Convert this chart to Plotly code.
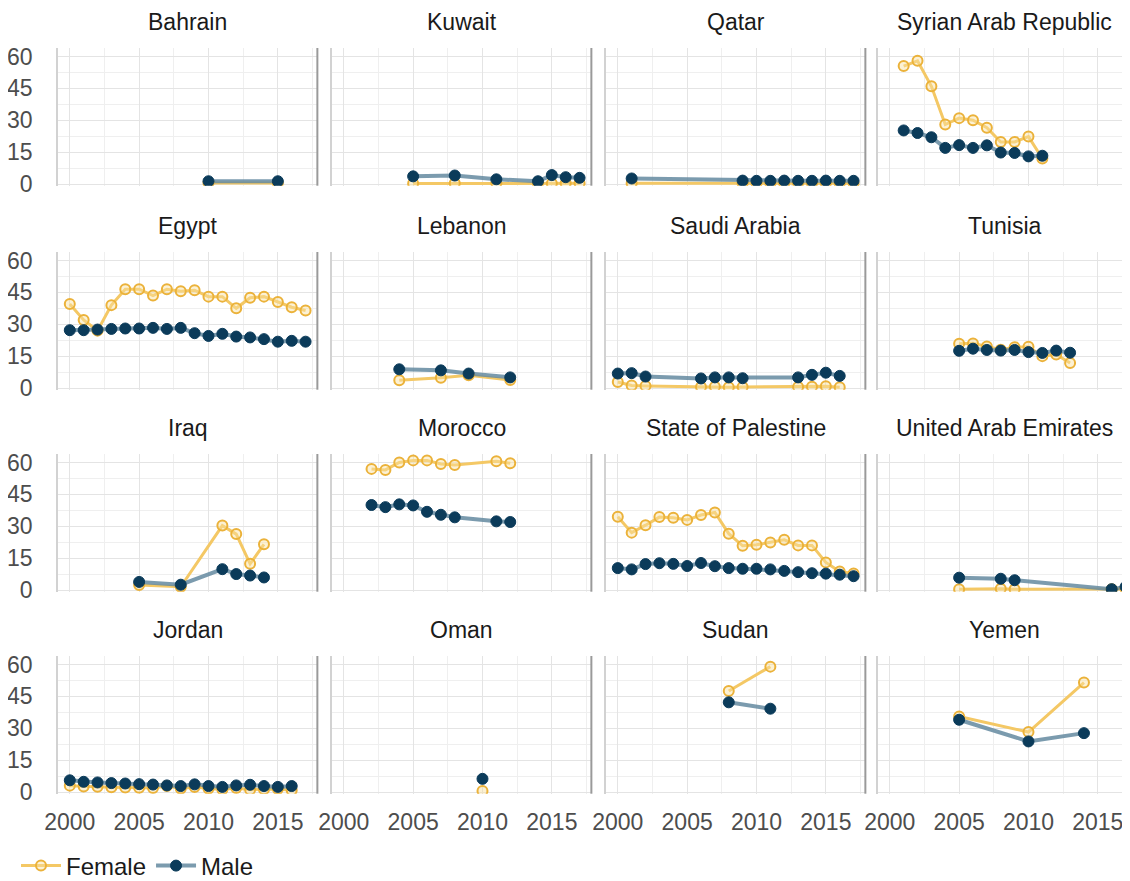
import plotly.graph_objects as go
from plotly.subplots import make_subplots

# ---- data (percent) ---------------------------------------------------------
countries = ["Bahrain", "Kuwait", "Qatar", "Syrian Arab Republic",
             "Egypt", "Lebanon", "Saudi Arabia", "Tunisia",
             "Iraq", "Morocco", "State of Palestine", "United Arab Emirates",
             "Jordan", "Oman", "Sudan", "Yemen"]

bahrain_years = [2010, 2015]
bahrain_female = [0.5, 0.5]
bahrain_male = [1.3, 1.3]

kuwait_years = [2005, 2008, 2011, 2014, 2015, 2016, 2017]
kuwait_female = [0.2, 0.3, 0.4, 0.3, 0.2, 0.3, 0.3]
kuwait_male = [3.6, 4.0, 2.2, 1.3, 4.2, 3.2, 2.9]

qatar_years = [2001, 2009, 2010, 2011, 2012, 2013, 2014, 2015, 2016, 2017]
qatar_female = [0.3, 0.3, 0.4, 0.3, 0.3, 0.4, 0.3, 0.3, 0.3, 0.4]
qatar_male = [2.6, 1.6, 1.5, 1.5, 1.6, 1.5, 1.5, 1.6, 1.5, 1.5]

syria_years = [2001, 2002, 2003, 2004, 2005, 2006, 2007, 2008, 2009, 2010, 2011]
syria_female = [55.5, 58.0, 46.0, 28.0, 31.0, 30.0, 26.5, 19.8, 19.8, 22.3, 12.0]
syria_male = [25.2, 24.0, 22.0, 17.0, 18.3, 17.0, 18.2, 14.8, 14.6, 13.0, 13.3]

egypt_years = [2000, 2001, 2002, 2003, 2004, 2005, 2006, 2007, 2008,
               2009, 2010, 2011, 2012, 2013, 2014, 2015, 2016, 2017]
egypt_female = [39.5, 32.0, 27.0, 39.0, 46.5, 46.5, 43.5, 46.5, 45.5,
                46.0, 43.0, 43.0, 37.5, 42.5, 43.0, 40.5, 38.0, 36.5]
egypt_male = [27.2, 27.2, 27.5, 27.8, 28.0, 28.0, 28.3, 27.8, 28.3,
              25.8, 24.5, 25.5, 24.2, 23.8, 23.0, 21.8, 22.2, 21.8]

lebanon_years = [2004, 2007, 2009, 2012]
lebanon_female = [3.6, 4.8, 6.0, 3.8]
lebanon_male = [8.8, 8.3, 6.8, 5.0]

saudi_years = [2000, 2001, 2002, 2006, 2007, 2008, 2009, 2013, 2014, 2015, 2016]
saudi_female = [2.8, 1.2, 1.0, 0.5, 0.6, 0.3, 0.5, 0.5, 0.6, 0.8, 0.3]
saudi_male = [6.8, 7.0, 5.4, 4.5, 5.0, 5.0, 4.6, 5.0, 6.2, 7.2, 5.7]

tunisia_years = [2005, 2006, 2007, 2008, 2009, 2010, 2011, 2012, 2013]
tunisia_female = [20.8, 21.0, 19.5, 18.0, 19.2, 19.4, 15.0, 15.8, 11.8]
tunisia_male = [17.5, 18.5, 17.9, 17.6, 17.9, 16.9, 16.5, 17.6, 16.6]

iraq_years = [2005, 2008, 2011, 2012, 2013, 2014]
iraq_female = [2.3, 1.5, 30.3, 26.3, 12.3, 21.5]
iraq_male = [3.8, 2.5, 9.8, 7.5, 6.8, 5.9]

morocco_years = [2002, 2003, 2004, 2005, 2006, 2007, 2008, 2011, 2012]
morocco_female = [57.0, 56.5, 60.0, 61.0, 61.0, 59.3, 58.8, 60.6, 59.6]
morocco_male = [40.0, 39.0, 40.3, 39.8, 36.8, 35.4, 34.2, 32.3, 32.0]

palestine_years = [2000, 2001, 2002, 2003, 2004, 2005, 2006, 2007, 2008,
                   2009, 2010, 2011, 2012, 2013, 2014, 2015, 2016, 2017]
palestine_female = [34.5, 27.0, 30.5, 34.3, 34.0, 33.0, 35.3, 36.5, 26.5,
                    20.8, 21.3, 22.3, 23.6, 21.0, 21.0, 13.0, 8.7, 7.8]
palestine_male = [10.3, 9.7, 12.2, 12.6, 12.3, 11.3, 12.7, 11.2, 10.3,
                  10.0, 10.0, 9.7, 9.0, 8.4, 7.9, 7.7, 7.2, 6.5]

uae_years = [2005, 2008, 2009, 2016, 2017]
uae_female = [0.3, 0.6, 0.3, 0.4, 0.5]
uae_male = [5.8, 5.3, 4.6, 0.4, 1.5]

jordan_years = [2000, 2001, 2002, 2003, 2004, 2005, 2006, 2007, 2008,
                2009, 2010, 2011, 2012, 2013, 2014, 2015, 2016]
jordan_female = [3.0, 2.6, 2.5, 2.2, 2.1, 2.0, 1.9, 2.8, 1.6,
                 2.4, 1.6, 1.2, 1.9, 1.1, 1.3, 1.4, 0.8]
jordan_male = [5.5, 4.8, 4.5, 4.2, 4.0, 3.7, 3.5, 3.1, 2.8,
               3.6, 2.8, 2.4, 3.1, 3.4, 2.8, 2.4, 2.8]

oman_years = [2010]
oman_female = [0.5]
oman_male = [6.2]

sudan_years = [2008, 2011]
sudan_female = [47.5, 59.0]
sudan_male = [42.2, 39.2]

yemen_years = [2005, 2010, 2014]
yemen_female = [35.5, 28.2, 51.5]
yemen_male = [34.0, 23.8, 27.7]

panels = [
    (bahrain_years, bahrain_female, bahrain_male),
    (kuwait_years, kuwait_female, kuwait_male),
    (qatar_years, qatar_female, qatar_male),
    (syria_years, syria_female, syria_male),
    (egypt_years, egypt_female, egypt_male),
    (lebanon_years, lebanon_female, lebanon_male),
    (saudi_years, saudi_female, saudi_male),
    (tunisia_years, tunisia_female, tunisia_male),
    (iraq_years, iraq_female, iraq_male),
    (morocco_years, morocco_female, morocco_male),
    (palestine_years, palestine_female, palestine_male),
    (uae_years, uae_female, uae_male),
    (jordan_years, jordan_female, jordan_male),
    (oman_years, oman_female, oman_male),
    (sudan_years, sudan_female, sudan_male),
    (yemen_years, yemen_female, yemen_male),
]

# ---- styling ---------------------------------------------------------------
# the page body keeps its default 8px margin, so lay out in (page px - 8)
PAGE_PAD = 8
W, H = 1130 - PAGE_PAD, 881 - PAGE_PAD
FONT = "Liberation Sans, Arial, sans-serif"
FEM_LINE = "#F4C865"
FEM_EDGE = "#EBB23A"
FEM_FILL = "rgba(248,224,160,0.45)"
MALE_LINE = "rgba(100,138,160,0.85)"
MALE_DOT = "#0B3B5A"
GRID = "#E4E4E4"
GRID_MINOR = "#EFEFEF"

PX_PER_YEAR = 13.87
X_START = 1999.15
col_left = [58, 332, 606, 878]          # page px
col_xend = [2017.85, 2017.85, 2017.85, 2017.32]
row_top = [48, 252, 454, 656]           # page px
panel_h = 137.7
Y_RANGE = [-0.8, 64]


def px_x(p):
    return (p - PAGE_PAD) / W


def px_y(p):
    return 1 - (p - PAGE_PAD) / H


fig = make_subplots(rows=4, cols=4)

female_marker = dict(symbol="circle", size=10, color=FEM_FILL,
                     line=dict(color=FEM_EDGE, width=2))
male_marker = dict(symbol="circle", size=11, color=MALE_DOT,
                   line=dict(color=MALE_DOT, width=1))

for i, (yrs, fem, male) in enumerate(panels):
    r, c = i // 4 + 1, i % 4 + 1
    # lines first, then points on top (like geom_line + geom_point)
    fig.add_trace(go.Scatter(x=yrs, y=fem, mode="lines", showlegend=False,
                             line=dict(color=FEM_LINE, width=3), hoverinfo="skip"),
                  row=r, col=c)
    fig.add_trace(go.Scatter(x=yrs, y=male, mode="lines", showlegend=False,
                             line=dict(color=MALE_LINE, width=4), hoverinfo="skip"),
                  row=r, col=c)
    fig.add_trace(go.Scatter(x=yrs, y=fem, mode="markers", showlegend=False,
                             marker=female_marker, name="Female"),
                  row=r, col=c)
    fig.add_trace(go.Scatter(x=yrs, y=male, mode="markers", showlegend=False,
                             marker=male_marker, name="Male"),
                  row=r, col=c)

    x_end = col_xend[c - 1]
    left = col_left[c - 1]
    right = min(left + (x_end - X_START) * PX_PER_YEAR, 1130)
    top = row_top[r - 1]
    bottom = top + panel_h

    fig.update_xaxes(domain=[px_x(left), min(px_x(right), 1.0)], range=[X_START, x_end],
                     tick0=2000, dtick=5, showgrid=True, gridcolor=GRID, gridwidth=1,
                     minor=dict(dtick=2.5, tick0=2000, showgrid=True,
                                gridcolor=GRID_MINOR, gridwidth=1),
                     zeroline=False, showline=False, ticks="", automargin=False,
                     showticklabels=(r == 4), ticklabelstandoff=12,
                     tickfont=dict(size=23, color="#4D4D4D", family=FONT),
                     row=r, col=c)
    fig.update_yaxes(domain=[px_y(bottom), px_y(top)], range=Y_RANGE,
                     tick0=0, dtick=15, showgrid=True, gridcolor=GRID, gridwidth=1,
                     minor=dict(dtick=7.5, tick0=0, showgrid=True,
                                gridcolor=GRID_MINOR, gridwidth=1),
                     zeroline=False, showline=True, linecolor="#D2D2D2", linewidth=1.5,
                     ticks="", automargin=False, showticklabels=(c == 1),
                     ticklabelstandoff=19,
                     tickfont=dict(size=23, color="#4D4D4D", family=FONT),
                     row=r, col=c)

    # strip title
    fig.add_annotation(x=px_x((left + right) / 2), y=px_y(top - 26),
                       xref="paper", yref="paper", text=countries[i], showarrow=False,
                       xanchor="center", yanchor="middle",
                       font=dict(size=23, color="#1A1A1A", family=FONT))

    # dark rule at the right edge of columns 1-3
    if c < 4:
        k = i + 1
        ax = "" if k == 1 else str(k)
        fig.add_shape(type="line", xref=f"x{ax} domain", yref=f"y{ax} domain",
                      x0=1, x1=1, y0=0, y1=1,
                      line=dict(color="#9A9A9A", width=2))

# legend-only entries
fig.add_trace(go.Scatter(x=[None], y=[None], mode="lines+markers", name="Female",
                         line=dict(color=FEM_LINE, width=3), marker=female_marker),
              row=1, col=1)
fig.add_trace(go.Scatter(x=[None], y=[None], mode="lines+markers", name="Male",
                         line=dict(color=MALE_LINE, width=4), marker=male_marker),
              row=1, col=1)

fig.update_layout(
    width=W, height=H,
    margin=dict(l=0, r=0, t=0, b=0, autoexpand=False),
    paper_bgcolor="white", plot_bgcolor="white",
    font=dict(family=FONT, size=22, color="#1A1A1A"),
    showlegend=True,
    legend=dict(orientation="h", x=px_x(16), xanchor="left",
                y=px_y(866), yanchor="middle",
                font=dict(size=24, color="#1A1A1A", family=FONT),
                itemwidth=40, bgcolor="rgba(0,0,0,0)"),
)

fig.write_html("out.html")
